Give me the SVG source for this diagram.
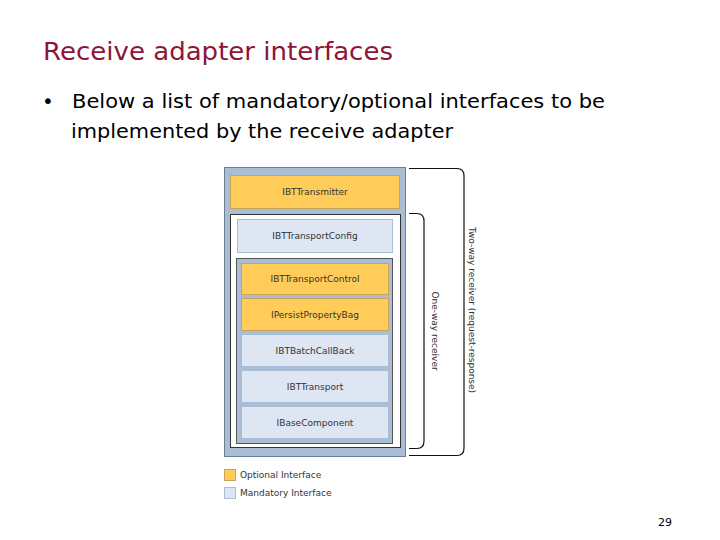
<svg xmlns="http://www.w3.org/2000/svg" width="720" height="540" viewBox="0 0 720 540">
<style>
.title{font-family:"DejaVu Sans","Liberation Sans",sans-serif;font-size:25px;fill:#8c1538}
.body{font-family:"DejaVu Sans","Liberation Sans",sans-serif;font-size:20px;fill:#000}
.lbl{font-family:"DejaVu Sans","Liberation Sans",sans-serif;font-size:9px;fill:#333;text-anchor:middle}
.leg{font-family:"DejaVu Sans","Liberation Sans",sans-serif;font-size:9px;fill:#333}
.opt{fill:#ffcc59;stroke:#c9a45a;stroke-width:1}
.man{fill:#dde6f2;stroke:#a9bdd5;stroke-width:1}
.br{fill:none;stroke:#111;stroke-width:1.2}
</style>
<rect width="720" height="540" fill="#fff"/>
<text class="title" x="43" y="60" textLength="350" lengthAdjust="spacingAndGlyphs">Receive adapter interfaces</text>
<text class="body" x="42" y="108">•</text>
<text class="body" x="72" y="108" textLength="533" lengthAdjust="spacingAndGlyphs">Below a list of mandatory/optional interfaces to be</text>
<text class="body" x="71" y="138" textLength="382" lengthAdjust="spacingAndGlyphs">implemented by the receive adapter</text>

<g id="outer">
<rect x="224.5" y="167.5" width="181" height="289" fill="#a9bed5" stroke="#6f7f92" stroke-width="1"/>
</g>
<g id="IBTTransmitter">
<rect class="opt" x="230.5" y="175.5" width="169" height="33"/>
<text class="lbl" x="315" y="195">IBTTransmitter</text>
</g>
<g id="white-box">
<rect x="230.5" y="214.5" width="170" height="233" fill="#fff" stroke="#333" stroke-width="1"/>
</g>
<g id="IBTTransportConfig">
<rect class="man" x="237.5" y="219.5" width="155" height="33"/>
<text class="lbl" x="315" y="239">IBTTransportConfig</text>
</g>
<g id="inner-box">
<rect x="236.5" y="258.5" width="156" height="185" fill="#a9bed5" stroke="#555" stroke-width="1"/>
</g>
<g id="IBTTransportControl">
<rect class="opt" x="241.5" y="263.5" width="147" height="31"/>
<text class="lbl" x="315" y="282">IBTTransportControl</text>
</g>
<g id="IPersistPropertyBag">
<rect class="opt" x="241.5" y="298.5" width="147" height="32"/>
<text class="lbl" x="315" y="318">IPersistPropertyBag</text>
</g>
<g id="IBTBatchCallBack">
<rect class="man" x="241.5" y="334.5" width="147" height="32"/>
<text class="lbl" x="315" y="354">IBTBatchCallBack</text>
</g>
<g id="IBTTransport">
<rect class="man" x="241.5" y="370.5" width="147" height="32"/>
<text class="lbl" x="315" y="390">IBTTransport</text>
</g>
<g id="IBaseComponent">
<rect class="man" x="241.5" y="406.5" width="147" height="32"/>
<text class="lbl" x="315" y="426">IBaseComponent</text>
</g>

<g id="connectors">
<path class="br" d="M409 168.5 H457 Q464 168.5 464 176 V448 Q464 455.5 457 455.5 H409"/>
<path class="br" d="M409 213.5 H417 Q424 213.5 424 221 V441 Q424 448.5 417 448.5 H409"/>
</g>
<g id="one-way-label">
<text class="leg" transform="translate(432,331) rotate(90)" text-anchor="middle">One-way receiver</text>
</g>
<g id="two-way-label">
<text class="leg" transform="translate(469,310) rotate(90)" text-anchor="middle">Two-way receiver (request-response)</text>
</g>

<g id="legend-optional">
<rect class="opt" x="224.5" y="469.5" width="11" height="11"/>
<text class="leg" x="240" y="478">Optional Interface</text>
</g>
<g id="legend-mandatory">
<rect class="man" x="224.5" y="487.5" width="11" height="11"/>
<text class="leg" x="240" y="496">Mandatory Interface</text>
</g>
<text x="658" y="526" font-family="DejaVu Sans,sans-serif" font-size="11" fill="#000">29</text>
</svg>
